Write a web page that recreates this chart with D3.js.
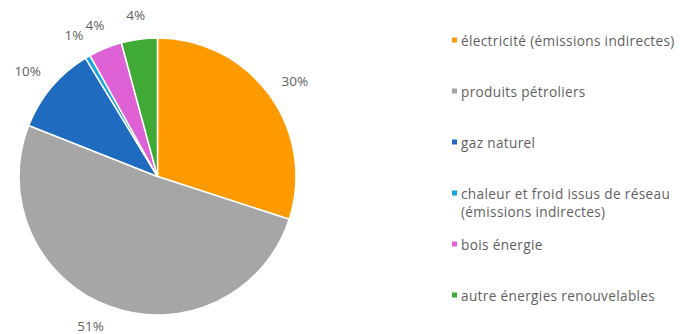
<!DOCTYPE html>
<html>
<head>
<meta charset="utf-8">
<script src="https://cdn.jsdelivr.net/npm/d3@7/dist/d3.min.js"></script>
<style>
  html, body { margin: 0; padding: 0; background: #fff; }
  svg { display: block; }
  text { font-family: "Open Sans", "DejaVu Sans", sans-serif; }
</style>
</head>
<body>
<svg id="chart" width="680" height="334"></svg>
<script>
// Répartition des émissions par source d'énergie (%)
const categories = [
  "électricité (émissions indirectes)",
  "produits pétroliers",
  "gaz naturel",
  "chaleur et froid issus de réseau (émissions indirectes)",
  "bois énergie",
  "autre énergies renouvelables"
];
const values = [30.0, 51.0, 10.3, 0.6, 3.9, 4.2];
const colors = ["#FF9A00", "#A6A6A6", "#1F6BC0", "#13A5DD", "#DE62D6", "#3FAA36"];

const W = 680, H = 334;
const cx = 157.5, cy = 176.5, r = 138.5;

const svg = d3.select("#chart");

const pie = d3.pie().sort(null).value(d => d.value);
const data = categories.map((c, i) => ({ name: c, value: values[i], color: colors[i] }));
const arcs = pie(data);

const arc = d3.arc().innerRadius(0).outerRadius(r);

const g = svg.append("g").attr("transform", `translate(${cx},${cy})`);

g.selectAll("path.slice")
  .data(arcs)
  .join("path")
  .attr("class", "slice")
  .attr("d", arc)
  .attr("fill", d => d.data.color)
  .attr("stroke", "#fff")
  .attr("stroke-width", 1.5)
  .attr("stroke-linejoin", "round");

// Étiquettes de pourcentage, à l'extérieur du disque
const labelR = r + 18;
const labels = g.selectAll("text.pct")
  .data(arcs)
  .join("text")
  .attr("class", "pct")
  .attr("text-anchor", "middle")
  .attr("dominant-baseline", "central")
  .attr("font-size", 13.5)
  .attr("fill", "#5f5f5f")
  .text(d => d3.format(".0f")(d.data.value) + "%");

labels.each(function(d) {
  const a = (d.startAngle + d.endAngle) / 2;
  const bb = this.getBBox();
  const w = bb.width, h = bb.height * 0.75;
  let x = labelR * Math.sin(a) + Math.sin(a) * w / 2;
  let y = -labelR * Math.cos(a) - Math.cos(a) * h / 2;
  // garder l'étiquette dans la zone de tracé en la faisant glisser le long du cercle
  const dist = Math.hypot(x, y);
  const maxY = H - cy - h / 2 - 1;
  if (y > maxY) {
    const t = Math.acos(maxY / dist);
    y = maxY;
    x = Math.sign(x || -1) * dist * Math.sin(t);
  }
  d3.select(this).attr("x", x).attr("y", y);
});

// Légende
const legX = 452, legTextX = 461, maxTextW = W - legTextX - 1;
const legY = d3.scaleLinear().domain([0, categories.length - 1]).range([40, 295]);

const leg = svg.append("g").selectAll("g.item")
  .data(data)
  .join("g")
  .attr("class", "item")
  .attr("transform", (d, i) => `translate(0,${legY(i)})`);

leg.append("rect")
  .attr("x", legX)
  .attr("y", -2.5)
  .attr("width", 5)
  .attr("height", 5)
  .attr("fill", d => d.color);

leg.append("text")
  .attr("x", legTextX)
  .attr("y", 0)
  .attr("dominant-baseline", "central")
  .attr("font-size", 13.6)
  .attr("letter-spacing", 0.35)
  .attr("fill", "#5f5f5f")
  .each(function(d) {
    const t = d3.select(this);
    const words = d.name.split(" ");
    let line = [];
    let tspan = t.append("tspan").attr("x", legTextX).attr("dy", 0);
    for (const w of words) {
      line.push(w);
      tspan.text(line.join(" "));
      if (tspan.node().getComputedTextLength() > maxTextW && line.length > 1) {
        line.pop();
        tspan.text(line.join(" "));
        line = [w];
        tspan = t.append("tspan").attr("x", legTextX).attr("dy", 18).text(w);
      }
    }
  });
</script>
</body>
</html>
